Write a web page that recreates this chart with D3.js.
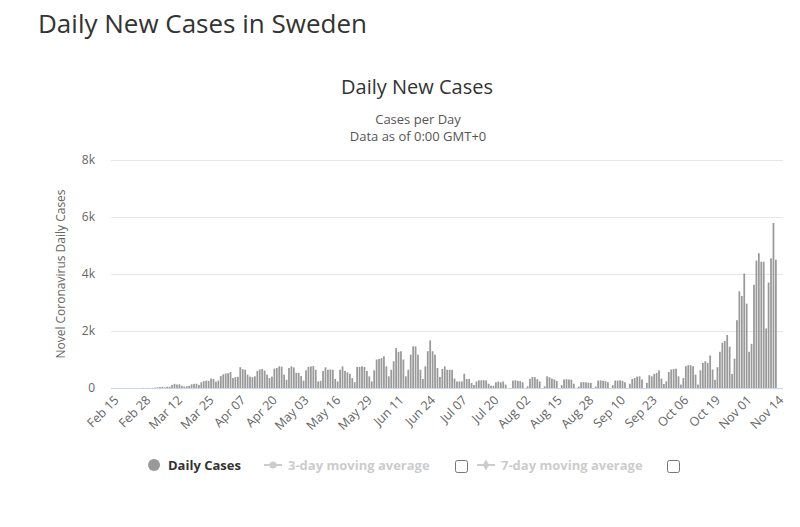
<!DOCTYPE html>
<html>
<head>
<meta charset="utf-8">
<title>Daily New Cases in Sweden</title>
<script src="https://d3js.org/d3.v7.min.js"></script>
<style>
  body { margin: 0; background: #fff; }
  text { font-family: "Open Sans", sans-serif; }
</style>
</head>
<body>
<div id="chart"></div>
<script>

// daily new cases in Sweden, one value per day, Feb 15 - Nov 14 2020
var casesFeb = [0,0,0,0,0,0,0,0,0,0,0,1,5,1,5];
var casesMar = [1,7,15,21,35,40,24,45,45,107,145,120,130,77,50,60,75,130,145,150,110,200,240,260,250,330,320,220,260,420,480];
var casesApr = [510,520,560,350,380,390,730,660,640,470,400,380,410,600,650,670,610,470,350,400,680,700,760,750,470,290,700,760,720,530];
var casesMay = [530,420,260,620,740,760,770,640,230,250,600,725,640,650,640,320,230,640,760,600,550,500,350,200,740,740,760,740,600,410,230];
var casesJun = [620,1000,1020,1050,1110,760,410,640,940,1400,1270,1290,1000,410,640,1170,1460,1460,1170,640,320,760,1290,1670,1290,1170,700,390,670,760];
var casesJul = [640,640,640,330,230,230,230,500,320,320,175,105,230,270,270,270,270,150,80,80,200,230,200,230,120,0,0,260,270,250,240];
var casesAug = [200,0,60,320,390,380,310,230,0,60,410,380,330,300,250,0,100,300,310,300,290,150,0,50,200,210,200,190,180,0,50];
var casesSep = [260,270,250,240,200,0,100,260,260,270,250,200,0,150,320,350,400,410,300,0,180,450,410,490,530,620,330,140,235,565];
var casesOct = [650,670,680,410,120,350,765,800,800,765,470,120,620,880,940,880,1140,650,290,730,1270,1590,1650,1860,1450,490,1030,2380,3390,3230,4020];
var casesNov = [2960,1270,1550,3620,4470,4730,4430,4430,2090,3700,4550,5790,4500,0];

var cases = [].concat(casesFeb, casesMar, casesApr, casesMay, casesJun, casesJul, casesAug, casesSep, casesOct, casesNov);
var startDate = new Date(2020, 1, 15);

var tickLabels = ["Feb 15","Feb 28","Mar 12","Mar 25","Apr 07","Apr 20","May 03","May 16","May 29","Jun 11","Jun 24",
                  "Jul 07","Jul 20","Aug 02","Aug 15","Aug 28","Sep 10","Sep 23","Oct 06","Oct 19","Nov 01","Nov 14"];
var tickEvery = 13;
var yTicks = [0, 2000, 4000, 6000, 8000];
var yTickLabels = ["0", "2k", "4k", "6k", "8k"];

var width = 800, height = 527;
var plotLeft = 111, plotRight = 783, plotTop = 160, plotBottom = 388;

var days = cases.map(function(d, i) { return d3.timeDay.offset(startDate, i); });

var svg = d3.select("#chart").append("svg")
    .attr("width", width)
    .attr("height", height)
    .style("display", "block");

svg.append("rect").attr("width", width).attr("height", height).attr("fill", "#fff");

// scales
var x = d3.scaleBand()
    .domain(d3.range(days.length))
    .range([112.8, 779.2])
    .paddingInner(0.28);

var y = d3.scaleLinear()
    .domain([0, 8000])
    .range([plotBottom, plotTop]);

// titles
svg.append("text")
    .attr("x", 38).attr("y", 33)
    .attr("font-size", 26)
    .attr("fill", "#333")
    .text("Daily New Cases in Sweden");

svg.append("text")
    .attr("x", 417).attr("y", 94)
    .attr("text-anchor", "middle")
    .attr("font-size", 20)
    .attr("fill", "#333")
    .text("Daily New Cases");

svg.append("text")
    .attr("x", 418).attr("y", 124)
    .attr("text-anchor", "middle")
    .attr("font-size", 13)
    .attr("fill", "#555")
    .text("Cases per Day");

svg.append("text")
    .attr("x", 418).attr("y", 141)
    .attr("text-anchor", "middle")
    .attr("font-size", 13)
    .attr("fill", "#555")
    .text("Data as of 0:00 GMT+0");

// grid lines
svg.append("g")
  .selectAll("line")
  .data(yTicks.slice(1))
  .enter().append("line")
    .attr("x1", plotLeft).attr("x2", plotRight)
    .attr("y1", function(d) { return Math.round(y(d)) + 0.5; })
    .attr("y2", function(d) { return Math.round(y(d)) + 0.5; })
    .attr("stroke", "#e6e6e6");

// y axis
var yAxis = svg.append("g")
    .attr("transform", "translate(" + (plotLeft - 16) + ",0)")
    .call(d3.axisLeft(y).tickValues(yTicks).tickSize(0)
      .tickFormat(function(d, i) { return yTickLabels[i]; }));
yAxis.select(".domain").remove();
yAxis.selectAll("text")
    .attr("x", 0)
    .attr("font-family", "'Open Sans', sans-serif")
    .attr("font-size", 12)
    .attr("fill", "#666");

svg.append("text")
    .attr("transform", "translate(65," + ((plotTop + plotBottom) / 2) + ") rotate(-90)")
    .attr("text-anchor", "middle")
    .attr("font-size", 12)
    .attr("fill", "#666")
    .text("Novel Coronavirus Daily Cases");

// bars
svg.append("g")
  .selectAll("rect")
  .data(cases)
  .enter().append("rect")
    .attr("x", function(d, i) { return x(i); })
    .attr("width", x.bandwidth())
    .attr("y", function(d) { return y(d); })
    .attr("height", function(d) { return plotBottom - y(d); })
    .attr("fill", "#999");

// x axis
var tickIdx = d3.range(0, cases.length, tickEvery);
var xAxis = svg.append("g")
    .attr("transform", "translate(0," + plotBottom + ")")
    .call(d3.axisBottom(x).tickValues(tickIdx).tickSize(0)
      .tickFormat(function(d) { return tickLabels[d / tickEvery]; }));
xAxis.select(".domain")
    .attr("d", "M" + plotLeft + ",0.5H" + plotRight)
    .attr("stroke", "#ccd6eb");
xAxis.selectAll("text")
    .attr("font-family", "'Open Sans', sans-serif")
    .attr("font-size", 12.5)
    .attr("fill", "#666")
    .attr("text-anchor", "end")
    .attr("dy", 0)
    .attr("y", 0)
    .attr("transform", "translate(6,13) rotate(-45)");

// legend
var legend = svg.append("g").attr("transform", "translate(0,465)");

legend.append("circle").attr("cx", 154).attr("cy", 0).attr("r", 6).attr("fill", "#999");
legend.append("text").attr("x", 168).attr("y", 4.5)
    .attr("font-size", 13).attr("font-weight", "bold").attr("fill", "#333")
    .text("Daily Cases");

var avgItems = [
  { label: "3-day moving average", x: 264, box: 455, symbol: "circle" },
  { label: "7-day moving average", x: 477, box: 667, symbol: "diamond" }
];

avgItems.forEach(function(it) {
  legend.append("line")
      .attr("x1", it.x).attr("x2", it.x + 18)
      .attr("y1", 0).attr("y2", 0)
      .attr("stroke", "#ccc").attr("stroke-width", 2);
  legend.append("path")
      .attr("d", d3.symbol().type(it.symbol === "circle" ? d3.symbolCircle : d3.symbolDiamond).size(it.symbol === "circle" ? 40 : 36)())
      .attr("transform", "translate(" + (it.x + 9) + ",0)")
      .attr("fill", "#ccc");
  legend.append("text").attr("x", it.x + 24).attr("y", 4.5)
      .attr("font-size", 13).attr("font-weight", "bold").attr("fill", "#ccc")
      .text(it.label);
  legend.append("rect")
      .attr("x", it.box + 0.5).attr("y", -4.5)
      .attr("width", 12).attr("height", 12).attr("rx", 2)
      .attr("fill", "#fff").attr("stroke", "#767676");
});

</script>
</body>
</html>
